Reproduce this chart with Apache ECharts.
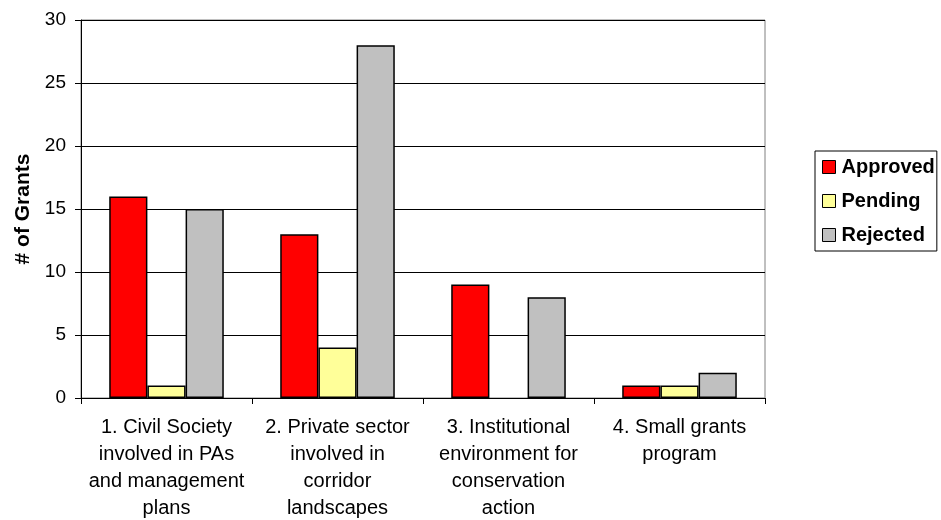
<!DOCTYPE html>
<html><head><meta charset="utf-8">
<script src="https://cdn.jsdelivr.net/npm/echarts@6/dist/echarts.min.js"></script>
<style>html,body{margin:0;padding:0;background:#fff}#c{width:941px;height:520px}</style>
</head><body><div id="c"></div>
<script>
const categories = ["1. Civil Society\ninvolved in PAs\nand management\nplans", "2. Private sector\ninvolved in\ncorridor\nlandscapes", "3. Institutional\nenvironment for\nconservation\naction", "4. Small grants\nprogram"];
const approved = [16, 13, 9, 1];
const pending = [1, 4, 0, 1];
const rejected = [15, 28, 8, 2];
const seriesNames = ["Approved", "Pending", "Rejected"];
const colors = ["#ff0000", "#ffff99", "#c0c0c0"];

const chart = echarts.init(document.getElementById('c'));
const font = "'Liberation Sans', Arial, sans-serif";
function mk(name, data, color) {
  return { name, type: 'bar', data: data.map(v => v === 0 ? null : v), barGap: '0%', barCategoryGap: '33%',
    itemStyle: { color, borderColor: '#000', borderWidth: 1.5 } };
}
chart.setOption({
  animation: false,
  textStyle: { fontFamily: font },
  grid: { left: 81, top: 20, width: 684, height: 378, outerBoundsMode: 'none', containLabel: false,
    show: true, borderColor: '#808080', borderWidth: 1 },
  legend: {
    orient: 'vertical', left: 815, top: 151, padding: [6, 2, 6, 7],
    borderColor: '#000', borderWidth: 1, itemWidth: 13, itemHeight: 13, itemGap: 14,
    icon: 'rect',
    itemStyle: { borderColor: '#000', borderWidth: 1 },
    textStyle: { fontSize: 20, fontWeight: 'bold', color: '#000', fontFamily: font, padding: [0, 0, 0, 1] },
    data: seriesNames
  },
  xAxis: {
    type: 'category', data: categories,
    axisLine: { lineStyle: { color: '#000', width: 1 } },
    axisTick: { show: true, length: 6, lineStyle: { color: '#000' } },
    axisLabel: { interval: 0, fontSize: 20, color: '#000', lineHeight: 27, margin: 16, fontFamily: font }
  },
  yAxis: {
    type: 'value', min: 0, max: 30, interval: 5,
    name: '# of Grants', nameLocation: 'middle', nameGap: 45, nameRotate: 90,
    nameTextStyle: { fontSize: 21, fontWeight: 'bold', color: '#000', fontFamily: font },
    axisLine: { show: true, lineStyle: { color: '#000', width: 1 } },
    axisTick: { show: true, length: 6, lineStyle: { color: '#000' } },
    axisLabel: { fontSize: 19, color: '#000', margin: 15, fontFamily: font },
    splitLine: { lineStyle: { color: '#000', width: 1 } }
  },
  series: [mk(seriesNames[0], approved, colors[0]), mk(seriesNames[1], pending, colors[1]), mk(seriesNames[2], rejected, colors[2])]
});
</script></body></html>
